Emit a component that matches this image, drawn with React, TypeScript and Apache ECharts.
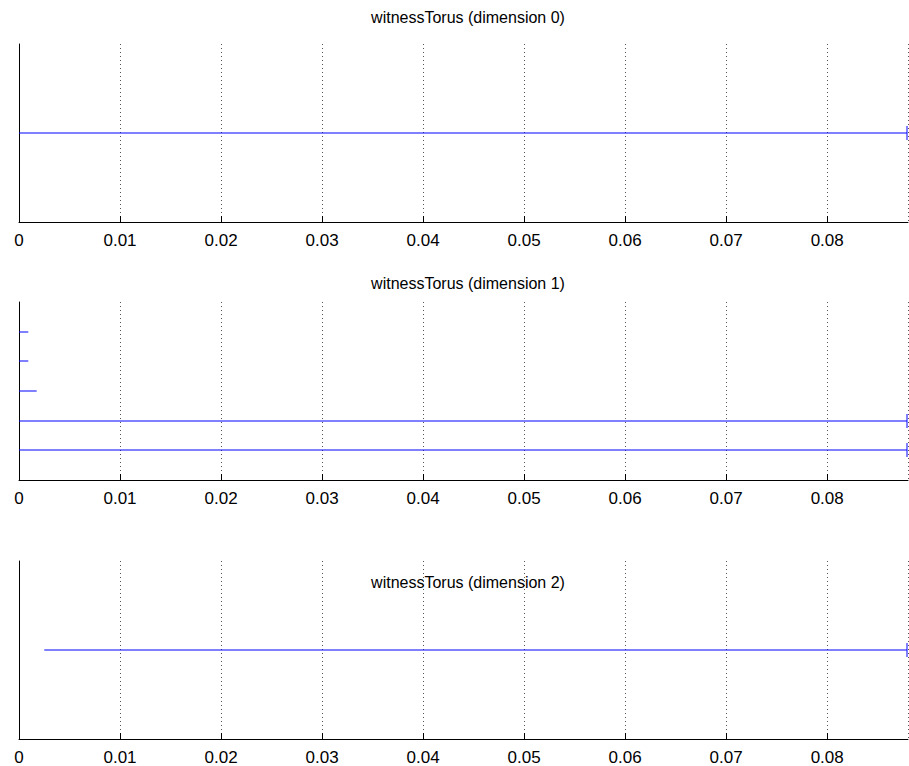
import React, { useEffect, useRef } from "react";
import * as echarts from "echarts";

const X_MAX = 0.088;
const xTickLabels = ["0", "0.01", "0.02", "0.03", "0.04", "0.05", "0.06", "0.07", "0.08"];
const titles = ["witnessTorus (dimension 0)", "witnessTorus (dimension 1)", "witnessTorus (dimension 2)"];

// interval births, deaths (infinite ones drawn to the axis end), infinite flags, and y slots
const dim0Birth = [0];
const dim0Death = [X_MAX];
const dim0Infinite = [1];
const dim0Slot = [1];

const dim1Birth = [0, 0, 0, 0, 0];
const dim1Death = [0.00092, 0.00092, 0.00175, X_MAX, X_MAX];
const dim1Infinite = [0, 0, 0, 1, 1];
const dim1Slot = [5, 4, 3, 2, 1];

const dim2Birth = [0.0025];
const dim2Death = [X_MAX];
const dim2Infinite = [1];
const dim2Slot = [1];

const yMaxes = [2, 6, 2];

const FONT = "Liberation Sans, Arial, Helvetica, sans-serif";

export default function App() {
  const ref = useRef<HTMLDivElement>(null);
  useEffect(() => {
    if (!ref.current) return;
    const chart = echarts.init(ref.current, undefined, { renderer: "svg" });
    const sets = [
      [dim0Birth, dim0Death, dim0Infinite, dim0Slot],
      [dim1Birth, dim1Death, dim1Infinite, dim1Slot],
      [dim2Birth, dim2Death, dim2Infinite, dim2Slot],
    ];
    const tops = [44, 302, 561];
    const titleCenters = [13, 279, 578];
    const H = 178;
    const TITLE_FS = 16;
    const grids = tops.map((t) => ({ left: 19, right: 1, top: t, height: H }));
    const xAxes = tops.map((_, i) => ({
      type: "value",
      gridIndex: i,
      min: 0,
      max: X_MAX,
      interval: 0.01,
      axisLine: { show: true, lineStyle: { color: "#000", width: 1 } },
      axisTick: { show: true, inside: true, length: 6, lineStyle: { color: "#000" } },
      axisLabel: {
        show: true,
        margin: 10,
        fontSize: 17,
        fontFamily: FONT,
        color: "#000",
        formatter: (v: number) => {
          const idx = Math.round(v / 0.01);
          if (Math.abs(v - idx * 0.01) > 1e-9) return "";
          return xTickLabels[idx] ?? "";
        },
        showMaxLabel: false,
      },
      splitLine: { show: true, lineStyle: { type: [1, 3], color: "#555", width: 1 } },
    }));
    const yAxes = tops.map((_, i) => ({
      type: "value",
      gridIndex: i,
      min: 0,
      max: yMaxes[i],
      axisLine: { show: true, lineStyle: { color: "#000", width: 1 } },
      axisTick: { show: false },
      axisLabel: { show: false },
      splitLine: { show: false },
    }));
    const series = sets.map((s, i) => {
      const [b, d, inf, slot] = s;
      const data = b.map((v, k) => [v, d[k], slot[k], inf[k]]);
      return {
        type: "custom",
        xAxisIndex: i,
        yAxisIndex: i,
        clip: false,
        data,
        renderItem: (params: any, api: any) => {
          const p0 = api.coord([api.value(0), api.value(2)]);
          const p1 = api.coord([api.value(1), api.value(2)]);
          const y = Math.round(p0[1]);
          const children: any[] = [
            {
              type: "line",
              shape: { x1: p0[0], y1: y, x2: p1[0] - (api.value(3) ? 1 : 0), y2: y },
              style: { stroke: "#0000ff", lineWidth: 1 },
            },
          ];
          if (api.value(3)) {
            children.push({
              type: "line",
              shape: { x1: p1[0] - 1, y1: y - 7, x2: p1[0] - 1, y2: y + 7 },
              style: { stroke: "#0000ff", lineWidth: 1 },
            });
          }
          return { type: "group", children };
        },
      };
    });
    chart.setOption({
      animation: false,
      backgroundColor: "#fff",
      title: titleCenters.map((c, i) => ({
        text: titles[i],
        left: 463,
        top: c - TITLE_FS / 2 - 1,
        textAlign: "center",
        z: 10,
        textStyle: { fontSize: TITLE_FS, fontWeight: "normal", fontFamily: FONT, color: "#000" },
      })),
      grid: grids,
      xAxis: xAxes,
      yAxis: yAxes,
      series,
    });
    return () => chart.dispose();
  }, []);
  return (
    <div
      ref={ref}
      style={{ position: "fixed", left: 0, top: 0, width: 909, height: 766 }}
    />
  );
}
